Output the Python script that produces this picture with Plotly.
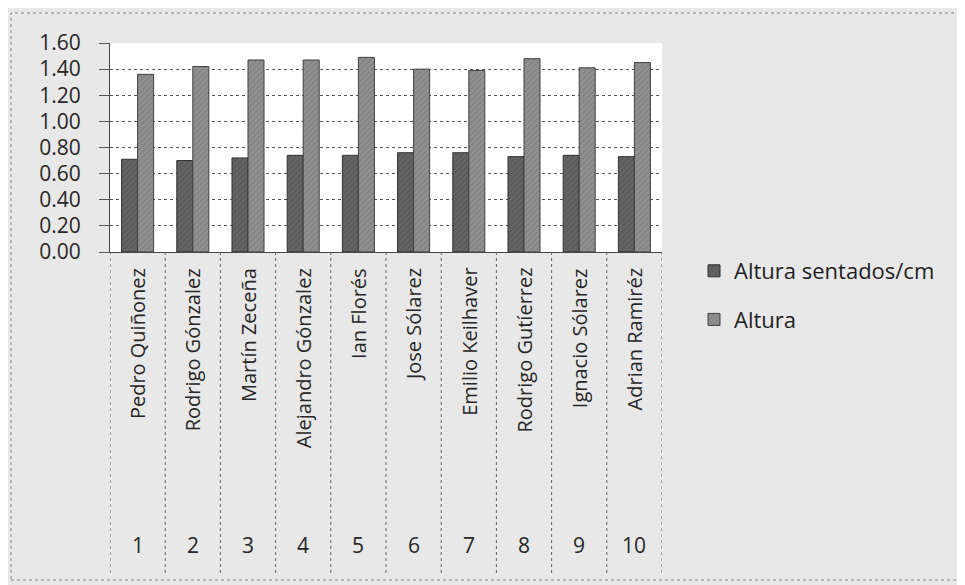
import plotly.graph_objects as go

numeros = ["1", "2", "3", "4", "5", "6", "7", "8", "9", "10"]
nombres = ["Pedro Quiñonez", "Rodrigo Gónzalez", "Martín Zeceña", "Alejandro Gónzalez",
           "Ian Florés", "Jose Sólarez", "Emilio Keilhaver", "Rodrigo Gutíerrez",
           "Ignacio Sólarez", "Adrian Ramiréz"]
altura_sentados = [0.71, 0.70, 0.72, 0.74, 0.74, 0.76, 0.76, 0.73, 0.74, 0.73]
altura = [1.36, 1.42, 1.47, 1.47, 1.49, 1.40, 1.39, 1.48, 1.41, 1.45]
y_ticks = [0.0, 0.2, 0.4, 0.6, 0.8, 1.0, 1.2, 1.4, 1.6]

FONT = "Open Sans"
OFF = 8  # page body margin
W, H = 965 - OFF, 585 - OFF
L, T = 110 - OFF, 43 - OFF
R = W - (662 - OFF)
B = H - (252 - OFF)
ph = H - T - B
pw = W - L - R

def py(pix):
    return -((pix - OFF) - (H - B)) / ph

def px(pix):
    return ((pix - OFF) - L) / pw

fig = go.Figure()
fig.add_trace(go.Bar(
    x=numeros, y=altura_sentados, name="Altura sentados/cm", legendgroup="a",
    marker=dict(color="#5f5f5f", line=dict(color="#303030", width=1),
                pattern=dict(shape="/", fgcolor="#4a4a4a", bgcolor="#646464", size=4, solidity=0.3)),
))
fig.add_trace(go.Bar(
    x=numeros, y=altura, name="Altura", legendgroup="b",
    marker=dict(color="#8c8c8c", line=dict(color="#404040", width=1),
                pattern=dict(shape="/", fgcolor="#707070", bgcolor="#909090", size=4, solidity=0.3)),
))

annotations = []
shapes = []
for i, (n, name) in enumerate(zip(numeros, nombres)):
    annotations.append(dict(x=i, y=py(266), xref="x", yref="paper", text=name,
                            textangle=-90, showarrow=False, yanchor="top", xanchor="center",
                            font=dict(family=FONT, size=20, color="#262626")))
    annotations.append(dict(x=i, y=py(545), xref="x", yref="paper", text=n,
                            showarrow=False, yanchor="middle", xanchor="center",
                            font=dict(family=FONT, size=21, color="#262626")))
for k in range(len(numeros) + 1):
    shapes.append(dict(type="line", xref="x", yref="paper", x0=k - 0.5, x1=k - 0.5,
                       y0=0, y1=py(573), line=dict(color="#666666", width=1, dash="dot")))
# outer chart border
shapes.append(dict(type="rect", xref="paper", yref="paper", x0=px(11), x1=px(958),
                   y0=py(580), y1=py(13), line=dict(color="#888888", width=1, dash="dot"),
                   layer="below"))

fig.update_layout(
    width=W, height=H,
    margin=dict(l=L, r=R, t=T, b=B),
    paper_bgcolor="#e8e8e8",
    plot_bgcolor="#ffffff",
    barmode="group",
    bargap=0.42,
    bargroupgap=0,
    font=dict(family=FONT, size=20, color="#262626"),
    showlegend=True,
    legend=dict(x=px(694), y=py(250), xanchor="left", yanchor="top",
                bgcolor="rgba(0,0,0,0)", font=dict(family=FONT, size=22, color="#1e1e1e"),
                tracegroupgap=17, itemwidth=30),
    annotations=annotations,
    shapes=shapes,
    xaxis=dict(type="category", range=[-0.5, 9.5], showticklabels=False,
               showline=True, linecolor="#444444", linewidth=1, ticks="", showgrid=False),
    yaxis=dict(range=[0, 1.6], tickvals=y_ticks, tickformat=".2f",
               showgrid=True, gridcolor="#555555", gridwidth=1, griddash="dot",
               ticks="outside", ticklen=10, tickcolor="#555555", ticklabelstandoff=14,
               showline=True, linecolor="#444444", linewidth=1,
               tickfont=dict(family=FONT, size=21, color="#262626"), zeroline=False),
)

fig.write_html("out.html")
